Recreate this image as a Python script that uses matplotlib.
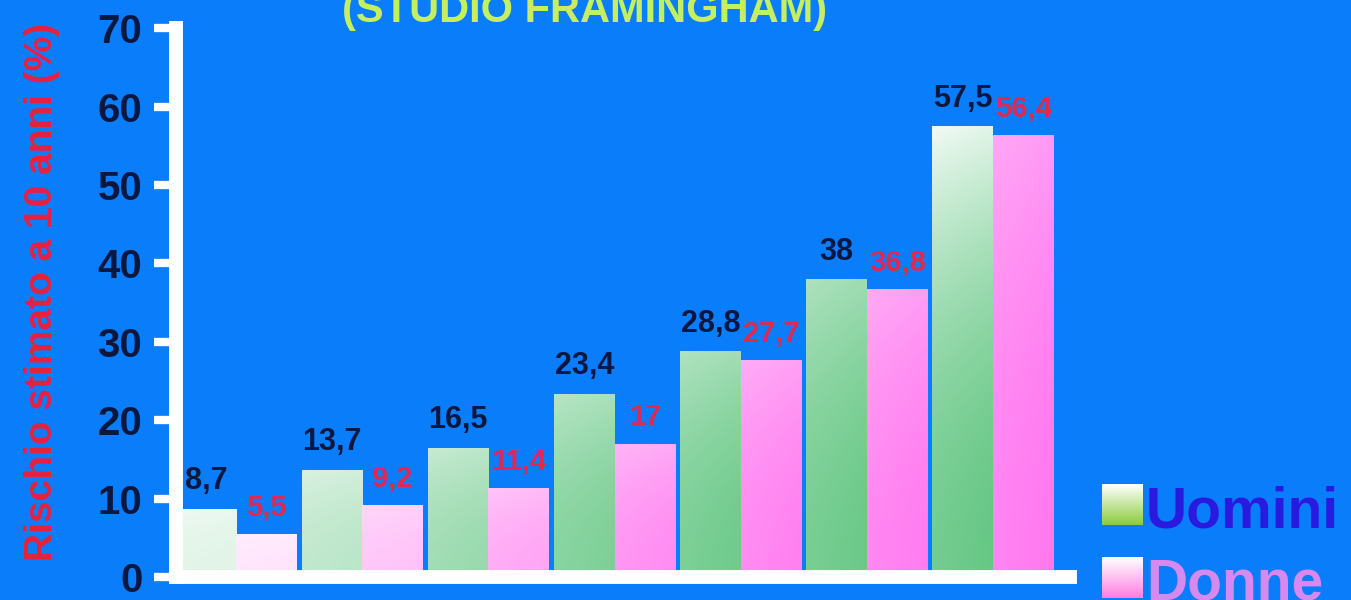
import numpy as np
import matplotlib
matplotlib.use("Agg")
import matplotlib.pyplot as plt
from matplotlib.patches import Rectangle

plt.rcParams['font.family'] = ['Liberation Sans', 'DejaVu Sans']
plt.rcParams['font.weight'] = 'bold'

# rischio di ictus a 10 anni per gruppo, uomini / donne
gruppi = ['1', '2', '3', '4', '5', '6', '7']
uomini = [8.7, 13.7, 16.5, 23.4, 28.8, 38, 57.5]
donne = [5.5, 9.2, 11.4, 17, 27.7, 36.8, 56.4]
etichette_u = ['8,7', '13,7', '16,5', '23,4', '28,8', '38', '57,5']
etichette_d = ['5,5', '9,2', '11,4', '17', '27,7', '36,8', '56,4']
yticks = [0, 10, 20, 30, 40, 50, 60, 70]

BG = '#0a7dfa'
VERDE = np.array([0.40, 0.78, 0.52])
ROSA = np.array([1.00, 0.47, 0.94])
BIANCO = np.array([1.0, 1.0, 1.0])


def gradiente(base, schiarisci, alto=0.35):
    # vertical fade from a lighter top to the base colour, lighter left edge
    ny, nx = 64, 32
    t = np.linspace(0, 1, ny)[:, None]
    s = np.linspace(0, 1, nx)[None, :]
    w = schiarisci + (1 - schiarisci) * (alto * (1 - t) ** 2 + 0.10 * (1 - s))
    w = np.clip(w, 0, 1)[..., None]
    return base * (1 - w) + BIANCO * w


fig = plt.figure(figsize=(13.51, 6), dpi=100, facecolor=BG)
ax = fig.add_axes([0.130, 0.038, 0.662, 0.915])
ax.set_facecolor(BG)

x = np.arange(len(gruppi))
w = 0.48
bars_u = ax.bar(x - w / 2, uomini, w, color=VERDE, zorder=2)
bars_d = ax.bar(x + w / 2, donne, w, color=ROSA, zorder=2)

# pale on the left, full colour on the right
luce = [0.80, 0.55, 0.33, 0.15, 0.06, 0.03, 0.0]
for i, (bu, bd) in enumerate(zip(bars_u, bars_d)):
    for bar, base, top in ((bu, VERDE, 0.35 if i < 6 else 0.8), (bd, ROSA, 0.25)):
        x0, y0 = bar.get_x(), bar.get_y()
        im = ax.imshow(gradiente(base, luce[i], top),
                       extent=[x0, x0 + bar.get_width(), y0, y0 + bar.get_height()],
                       aspect='auto', zorder=3, interpolation='bilinear')
        im.set_clip_path(bar)

for xi, v, t in zip(x, uomini, etichette_u):
    ax.text(xi - w / 2, v + 1.6, t, ha='center', va='bottom',
            fontsize=22, color='#0a1840', fontweight='bold')
for xi, v, t in zip(x, donne, etichette_d):
    ax.text(xi + w / 2, v + 1.6, t, ha='center', va='bottom',
            fontsize=21, color='#e02850', fontweight='bold')

ax.set_xlim(-0.48, 6.61)
ax.set_ylim(0, 70)
ax.set_yticks(yticks)
ax.set_yticklabels([str(t) for t in yticks], fontsize=29, fontweight='bold', color='#0a1840')
ax.tick_params(axis='y', length=16, width=6, color='white', pad=8)
ax.tick_params(axis='x', length=0, labelbottom=False)
for side in ['top', 'right']:
    ax.spines[side].set_visible(False)
for side in ['left', 'bottom']:
    ax.spines[side].set_color('white')
    ax.spines[side].set_linewidth(10)
    ax.spines[side].set_zorder(4)

fig.text(0.031, 0.513, 'Rischio stimato a 10 anni (%)', rotation=90,
         ha='center', va='center', fontsize=28, fontweight='bold', color='#e82040')
fig.text(0.433, 0.963, '(STUDIO FRAMINGHAM)', ha='center', va='baseline',
         fontsize=30, fontweight='bold', color='#c4f060')

# legend drawn by hand in pixel coordinates
lax = fig.add_axes([0, 0, 1, 1])
lax.set_xlim(0, 1351)
lax.set_ylim(0, 600)
lax.axis('off')
lax.patch.set_visible(False)
voci = [('Uomini', np.array([0.55, 0.80, 0.25]), '#2a1ae0', 75),
        ('Donne', np.array([1.0, 0.50, 0.88]), '#d68af0', 2)]
for nome, base, col, yb in voci:
    sq = Rectangle((1102, yb), 41, 41, facecolor=base, edgecolor='none', zorder=1)
    lax.add_patch(sq)
    t = np.linspace(0, 1, 32)[:, None, None]
    img = base * t + BIANCO * (1 - t) * np.ones((32, 8, 3))
    im = lax.imshow(img, extent=[1102, 1143, yb, yb + 41], aspect='auto',
                    interpolation='bilinear', zorder=2)
    im.set_clip_path(sq)
    lax.text(1146, yb - 2, nome, ha='left', va='baseline', fontsize=41,
             fontweight='bold', color=col)
lax.set_xlim(0, 1351)
lax.set_ylim(0, 600)

fig.savefig('out.png', dpi=100, facecolor=BG)
